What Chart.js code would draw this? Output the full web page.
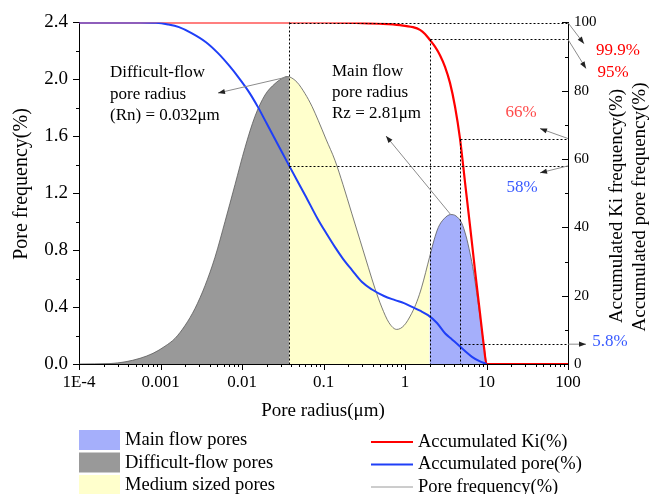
<!DOCTYPE html>
<html>
<head>
<meta charset="utf-8">
<script src="https://cdn.jsdelivr.net/npm/chart.js@4/dist/chart.umd.min.js"></script>
<style>
  html, body { margin: 0; padding: 0; background: #fff; }
  canvas { display: block; }
</style>
</head>
<body>
<canvas id="c" width="649" height="494"></canvas>
<script>
// Pore size distribution: radius (μm) against pore frequency (%)
const poreRadius = [1e-4, 2.401e-4, 3.668e-4, 5.60e-4, 8.091e-4, 1.136e-3, 1.506e-3, 1.998e-3, 2.650e-3,
  3.516e-3, 4.663e-3, 6.185e-3, 8.204e-3, 0.01088, 0.01443, 0.01915, 0.02540, 0.03184, 0.03565, 0.038,
  0.04728, 0.05929, 0.07226, 0.08633, 0.1073, 0.1384, 0.1735, 0.2218, 0.2805, 0.3545, 0.4284, 0.5177,
  0.6365, 0.7909, 0.972, 1.208, 1.403, 1.603, 2.0,
  2.269, 2.563, 3.009, 3.637, 4.225, 4.963, 5.604, 6.273, 6.927, 7.583, 8.206, 8.882, 9.452, 10.0];
const poreFrequency = [0, 0.003, 0.015, 0.04, 0.075, 0.125, 0.18, 0.27, 0.39,
  0.55, 0.75, 1.00, 1.26, 1.52, 1.74, 1.89, 1.97, 2.01, 2.02, 2.018,
  1.98, 1.90, 1.81, 1.71, 1.58, 1.43, 1.26, 1.06, 0.87, 0.68, 0.53, 0.40,
  0.29, 0.243, 0.27, 0.356, 0.44, 0.54, 0.75,
  0.87, 0.96, 1.02, 1.05, 1.04, 0.99, 0.90, 0.78, 0.65, 0.50, 0.36, 0.215, 0.10, 0];

// Accumulated pore volume (%) against radius
const accPoreRadius = [1e-4, 5.60e-4, 8.80e-4, 1.236e-3, 1.687e-3, 2.434e-3, 3.616e-3, 5.076e-3, 6.927e-3,
  9.19e-3, 0.01219, 0.01571, 0.01970, 0.02470, 0.03096, 0.038, 0.04728, 0.05929, 0.08560, 0.1073, 0.1384,
  0.1735, 0.2237, 0.2968, 0.3937, 0.5524, 0.7540, 0.9721, 1.219, 1.528, 1.915, 2.470, 3.096, 3.773,
  4.408, 5.447, 6.639, 8.091, 10.0];
const accPore = [100, 100, 99.9, 99.4, 98.6, 96.8, 94.2, 91.0, 87.4,
  83.7, 79.6, 75.2, 70.8, 66.4, 62, 58, 53.8, 49.5, 42.3, 38.4, 34.2,
  30.8, 27.5, 24.0, 21.8, 19.9, 18.7, 17.8, 16.7, 15.6, 14.3, 12.0, 9.0, 7.2,
  5.8, 3.8, 2.1, 0.9, 0];

// Accumulated permeability contribution Ki (%) against radius
const kiRadius = [1e-4, 0.1, 0.25, 0.49, 0.869, 1.25, 1.528, 1.76, 2.0, 2.333, 2.687, 3.097, 3.565,
  4.106, 4.73, 5.45, 6.28, 7.22, 8.32, 9.31, 10.0, 100];
const accKi = [100, 99.97, 99.85, 99.6, 99.2, 98.6, 97.8, 96.6, 95, 92.9, 90.4, 87.0, 82.3,
  75.4, 66, 53.2, 40.4, 27.5, 14.9, 5, 0, 0];

// Class boundaries and read-off levels
const RN_EDGE = 0.038;   // difficult-flow / medium pores
const RZ_EDGE = 2.0;     // medium / main flow pores
const R_KI66 = 4.73;     // radius where Ki reaches 66 %
const KI_AT_RN = 99.9, PORE_AT_RN = 58, KI_AT_RZ = 95, KI_AT_R66 = 66, PORE_AT_R66 = 5.8;

// Axis ticks
const xTicks = [1e-4, 1e-3, 1e-2, 1e-1, 1, 10, 100];
const xTickLabels = ['1E-4', '0.001', '0.01', '0.1', '1', '10', '100'];
const yTicks = [0, 0.4, 0.8, 1.2, 1.6, 2.0, 2.4];
const y2Ticks = [0, 20, 40, 60, 80, 100];

const SERIF = '"Liberation Serif", "Times New Roman", serif';
const C_GRAY = '#999999', C_YELLOW = '#ffffcc', C_BLUEFILL = '#a5affb';
const C_RED = '#ff0000', C_BLUE = '#1f3ff7';

const pts = (xs, ys) => xs.map((r, i) => ({ x: r, y: ys[i] }));
const allFreq = pts(poreRadius, poreFrequency);
const freqIn = (lo, hi) => allFreq.filter(p => p.x >= lo && p.x <= hi);

function arrow(ctx, x1, y1, x2, y2) {
  ctx.save();
  ctx.strokeStyle = '#8c8c8c';
  ctx.lineWidth = 1;
  ctx.beginPath(); ctx.moveTo(x1, y1); ctx.lineTo(x2, y2); ctx.stroke();
  const a = Math.atan2(y2 - y1, x2 - x1), L = 7, W = 2.6;
  const bx = x2 - L * Math.cos(a), by = y2 - L * Math.sin(a);
  ctx.fillStyle = '#222';
  ctx.beginPath();
  ctx.moveTo(x2, y2);
  ctx.lineTo(bx + W * Math.sin(a), by - W * Math.cos(a));
  ctx.lineTo(bx - W * Math.sin(a), by + W * Math.cos(a));
  ctx.closePath(); ctx.fill();
  ctx.restore();
}

function text(ctx, str, x, y, opt = {}) {
  ctx.save();
  ctx.font = (opt.size || 17) + 'px ' + SERIF;
  ctx.fillStyle = opt.color || '#000';
  ctx.textAlign = opt.align || 'left';
  ctx.textBaseline = 'middle';
  if (opt.rotate) { ctx.translate(x, y); ctx.rotate(opt.rotate); ctx.fillText(str, 0, 0); }
  else ctx.fillText(str, x, y);
  ctx.restore();
}

// Dotted read-off lines, drawn over the filled areas
const guides = {
  id: 'guides',
  afterDatasetsDraw(chart) {
    const { ctx, chartArea: a, scales: { x, y2 } } = chart;
    const X = v => Math.round(x.getPixelForValue(v)) + 0.5;
    const Y = v => Math.round(y2.getPixelForValue(v)) + 0.5;
    ctx.save();
    ctx.strokeStyle = '#000';
    ctx.lineWidth = 1;
    ctx.setLineDash([2, 2]);
    const seg = (x1, y1, x2, yb) => { ctx.beginPath(); ctx.moveTo(x1, y1); ctx.lineTo(x2, yb); ctx.stroke(); };
    seg(X(RN_EDGE), Y(100), X(RN_EDGE), a.bottom);
    seg(X(RN_EDGE), Y(KI_AT_RN), a.right, Y(KI_AT_RN));
    seg(X(RN_EDGE), Y(PORE_AT_RN), a.right, Y(PORE_AT_RN));
    seg(X(RZ_EDGE), Y(KI_AT_RZ), X(RZ_EDGE), a.bottom);
    seg(X(RZ_EDGE), Y(KI_AT_RZ), a.right, Y(KI_AT_RZ));
    seg(X(R_KI66), Y(KI_AT_R66), X(R_KI66), a.bottom);
    seg(X(R_KI66), Y(KI_AT_R66), a.right, Y(KI_AT_R66));
    seg(X(R_KI66), Y(PORE_AT_R66), a.right, Y(PORE_AT_R66));
    ctx.restore();
  }
};

// Tick marks, titles, annotations and legend
const decor = {
  id: 'decor',
  afterDraw(chart) {
    const { ctx, chartArea: a, scales: { x, y, y2 } } = chart;
    ctx.save();
    ctx.strokeStyle = '#000';
    ctx.lineWidth = 1;
    const seg = (x1, y1, x2, yb) => { ctx.beginPath(); ctx.moveTo(x1, y1); ctx.lineTo(x2, yb); ctx.stroke(); };
    for (let e = -4; e <= 2; e++) {
      for (let m = 1; m <= 9; m++) {
        const v = m * Math.pow(10, e);
        if (v > 100.0001) break;
        const px = Math.round(x.getPixelForValue(v)) + 0.5;
        seg(px, a.bottom, px, a.bottom + (m === 1 ? 6 : 3));
      }
    }
    for (let k = 0; k <= 12; k++) {
      const py = Math.round(y.getPixelForValue(k * 0.2)) + 0.5;
      seg(a.left, py, a.left - (k % 2 === 0 ? 6 : 3), py);
    }
    for (let k = 0; k <= 10; k++) {
      const py = Math.round(y2.getPixelForValue(k * 10)) + 0.5;
      seg(a.right, py, a.right - (k % 2 === 0 ? 6 : 3), py);
    }
    ctx.restore();

    // axis titles
    text(ctx, 'Pore frequency(%)', 22, 184, { size: 20, align: 'center', rotate: -Math.PI / 2 });
    text(ctx, 'Pore radius(\u03bcm)', 323, 411, { size: 19, align: 'center' });
    text(ctx, 'Accumulated Ki frequency(%)', 617, 206, { size: 19, align: 'center', rotate: -Math.PI / 2 });
    text(ctx, 'Accumulated pore frequency(%)', 640, 207, { size: 19, align: 'center', rotate: -Math.PI / 2 });

    // radius annotations
    const X = v => x.getPixelForValue(v);
    const Yf = v => y.getPixelForValue(v);
    const Y2 = v => y2.getPixelForValue(v);
    text(ctx, 'Difficult-flow', 110, 73);
    text(ctx, 'pore radius', 110, 95);
    text(ctx, '(Rn) = 0.032\u03bcm', 110, 116);
    arrow(ctx, X(RN_EDGE), Yf(2.02), 218, 93);
    text(ctx, 'Main flow', 332, 72);
    text(ctx, 'pore radius', 332, 93);
    text(ctx, 'Rz = 2.81\u03bcm', 332, 114);
    arrow(ctx, X(3.637), Yf(1.05), 386, 136);

    // read-off values at the right axis
    arrow(ctx, a.right, Y2(KI_AT_RN), a.right + 16, Y2(KI_AT_RN) + 21);
    text(ctx, '99.9%', 618, 51, { color: C_RED, align: 'center' });
    arrow(ctx, a.right, Y2(KI_AT_RZ), a.right + 18, Y2(KI_AT_RZ) + 29);
    text(ctx, '95%', 613, 73, { color: C_RED, align: 'center' });
    arrow(ctx, a.right, Y2(KI_AT_R66), a.right - 28, Y2(KI_AT_R66) - 10);
    text(ctx, '66%', 521, 113, { color: '#ff4a4a', align: 'center' });
    arrow(ctx, a.right, Y2(PORE_AT_RN), a.right - 28, Y2(PORE_AT_RN) + 7);
    text(ctx, '58%', 522, 188, { color: '#3a5bff', align: 'center' });
    arrow(ctx, a.right, Y2(PORE_AT_R66), a.right + 18, Y2(PORE_AT_R66));
    text(ctx, '5.8%', 610, 342, { color: '#3a5bff', align: 'center' });

    // legend
    const sw = [[C_BLUEFILL, 'Main flow pores'], [C_GRAY, 'Difficult-flow pores'], [C_YELLOW, 'Medium sized pores']];
    sw.forEach(([c, t], i) => {
      const top = 430 + i * 22.5;
      ctx.fillStyle = c;
      ctx.fillRect(79, top, 41, 20);
      text(ctx, t, 125, top + 10.5, { size: 18.5 });
    });
    const ln = [[C_RED, 2, 'Accumulated Ki(%)'], [C_BLUE, 2, 'Accumulated pore(%)'], ['#9a9a9a', 1, 'Pore frequency(%)']];
    ln.forEach(([c, w, t], i) => {
      const yy = 442 + i * 22.5;
      ctx.save();
      ctx.strokeStyle = c; ctx.lineWidth = w;
      ctx.beginPath(); ctx.moveTo(371, yy); ctx.lineTo(413, yy); ctx.stroke();
      ctx.restore();
      text(ctx, t, 418, yy, { size: 18.5 });
    });
  }
};

new Chart(document.getElementById('c'), {
  type: 'line',
  data: {
    datasets: [
      { label: 'Accumulated pore(%)', data: pts(accPoreRadius, accPore), yAxisID: 'y2',
        borderColor: C_BLUE, borderWidth: 2, fill: false, order: 0 },
      { label: 'Accumulated Ki(%)', data: pts(kiRadius, accKi), yAxisID: 'y2',
        borderColor: C_RED, borderWidth: 2.2, fill: false, order: 1 },
      { label: 'Pore frequency(%)', data: allFreq, yAxisID: 'y',
        borderColor: '#5a5a5a', borderWidth: 0.8, fill: false, order: 2 },
      { label: 'Difficult-flow pores', data: freqIn(0, RN_EDGE), yAxisID: 'y',
        borderWidth: 0, backgroundColor: C_GRAY, fill: 'origin', order: 3 },
      { label: 'Medium sized pores', data: freqIn(RN_EDGE, RZ_EDGE), yAxisID: 'y',
        borderWidth: 0, backgroundColor: C_YELLOW, fill: 'origin', order: 3 },
      { label: 'Main flow pores', data: freqIn(RZ_EDGE, 100), yAxisID: 'y',
        borderWidth: 0, backgroundColor: C_BLUEFILL, fill: 'origin', order: 3 }
    ]
  },
  options: {
    responsive: false,
    animation: false,
    devicePixelRatio: 1,
    layout: { padding: { top: 22, left: 0, right: 0, bottom: 0 } },
    plugins: { legend: { display: false }, tooltip: { enabled: false } },
    elements: { point: { radius: 0 }, line: { cubicInterpolationMode: 'monotone' } },
    scales: {
      x: {
        type: 'logarithmic', min: 1e-4, max: 100, position: 'bottom',
        afterBuildTicks: s => { s.ticks = xTicks.map(v => ({ value: v })); },
        afterFit: s => { s.height = 130; },
        grid: { display: false, drawTicks: false },
        border: { display: true, color: '#000', width: 1 },
        ticks: { autoSkip: false, maxRotation: 0, padding: 8, color: '#000',
          font: { family: SERIF, size: 17 }, callback: (v, i) => xTickLabels[i] }
      },
      y: {
        type: 'linear', position: 'left', min: 0, max: 2.4,
        afterBuildTicks: s => { s.ticks = yTicks.map(v => ({ value: v })); },
        afterFit: s => { s.width = 79; },
        grid: { display: false, drawTicks: false },
        border: { display: true, color: '#000', width: 1 },
        ticks: { padding: 11, color: '#000', font: { family: SERIF, size: 19 },
          callback: v => v.toFixed(1) }
      },
      y2: {
        type: 'linear', position: 'right', min: 0, max: 100,
        afterBuildTicks: s => { s.ticks = y2Ticks.map(v => ({ value: v })); },
        afterFit: s => { s.width = 81; },
        grid: { display: false, drawTicks: false },
        border: { display: true, color: '#000', width: 1 },
        ticks: { padding: 6, color: '#000', font: { family: SERIF, size: 15 },
          callback: v => String(v) }
      }
    }
  },
  plugins: [guides, decor]
});
</script>
</body>
</html>
